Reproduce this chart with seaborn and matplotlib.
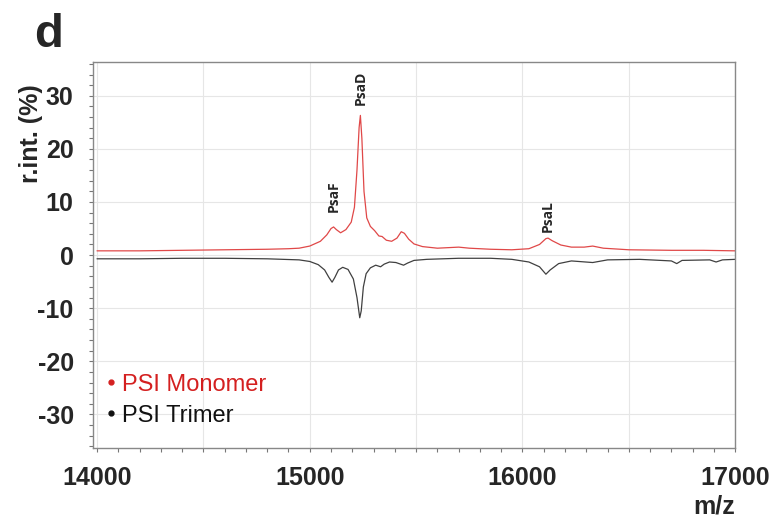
import matplotlib
matplotlib.use("Agg")
import matplotlib.pyplot as plt
import seaborn as sns
import pandas as pd
from matplotlib.ticker import MultipleLocator, FuncFormatter
from matplotlib.lines import Line2D

# PSI monomer spectrum (red, plotted upward)
mono_mz = [14000, 14200, 14400, 14600, 14800, 14900, 14950, 15000, 15050, 15080,
           15100, 15112, 15125, 15145, 15170, 15195, 15210, 15222, 15232, 15238,
           15245, 15255, 15268, 15285, 15305, 15325, 15340, 15360, 15385, 15410,
           15430, 15445, 15465, 15490, 15530, 15600, 15700, 15750, 15850, 15950,
           16030, 16080, 16110, 16120, 16140, 16180, 16230, 16290, 16330, 16380,
           16500, 16700, 16850, 17000]
mono_int = [0.8, 0.8, 0.9, 1.0, 1.1, 1.2, 1.3, 1.7, 2.6, 3.8,
            5.0, 5.3, 4.8, 4.2, 4.8, 6.2, 9.0, 16.0, 24.0, 26.3,
            22.0, 12.0, 7.0, 5.4, 4.6, 3.6, 3.5, 2.8, 2.6, 3.2,
            4.4, 4.1, 3.0, 2.1, 1.6, 1.3, 1.5, 1.3, 1.1, 1.0,
            1.2, 2.0, 3.1, 3.2, 2.7, 1.9, 1.5, 1.5, 1.7, 1.3,
            1.0, 0.9, 0.9, 0.8]

# PSI trimer spectrum (black, mirrored downward)
tri_mz = [14000, 14200, 14400, 14600, 14800, 14950, 15000, 15040, 15070, 15090,
          15105, 15118, 15135, 15155, 15180, 15205, 15222, 15235, 15242, 15252,
          15265, 15285, 15310, 15333, 15350, 15375, 15405, 15441, 15460, 15490,
          15550, 15700, 15850, 15950, 16030, 16080, 16110, 16130, 16170, 16230,
          16330, 16400, 16550, 16700, 16725, 16750, 16880, 16910, 16940, 17000]
tri_int = [-0.7, -0.7, -0.6, -0.6, -0.7, -0.9, -1.2, -1.8, -2.8, -4.2,
           -5.1, -4.2, -2.8, -2.3, -2.7, -4.5, -8.0, -11.8, -10.5, -6.0,
           -3.5, -2.4, -1.9, -2.2, -1.7, -1.3, -1.4, -1.9, -1.5, -1.0,
           -0.8, -0.6, -0.6, -0.8, -1.3, -2.2, -3.6, -2.8, -1.6, -1.1,
           -1.4, -0.9, -0.8, -1.1, -1.6, -1.0, -0.9, -1.3, -0.9, -0.8]

peak_names = ["PsaF", "PsaD", "PsaL"]
peak_mz = [15112, 15238, 16117]
peak_top = [5.3, 26.3, 3.2]
label_gap = [2.9, 1.9, 1.1]

series_names = ["PSI Monomer", "PSI Trimer"]
series_colors = ["#e04848", "#404040"]
label_colors = ["#d42020", "#111111"]

sns.set_style("white")
plt.rcParams["font.family"] = ["Liberation Sans", "DejaVu Sans"]
plt.rcParams["axes.unicode_minus"] = False

fig = plt.figure(figsize=(7.83, 5.19), dpi=100)
ax = fig.add_axes([0.119, 0.137, 0.820, 0.744])

ax.grid(True, color="#e6e6e6", linewidth=0.8)
ax.set_axisbelow(True)

sns.lineplot(x=mono_mz, y=mono_int, ax=ax, color=series_colors[0], linewidth=0.9)
sns.lineplot(x=tri_mz, y=tri_int, ax=ax, color=series_colors[1], linewidth=0.9)

ax.set_xlim(13982, 17000)
ax.set_ylim(-36.3, 36.4)

ax.xaxis.set_major_locator(MultipleLocator(500))
ax.xaxis.set_minor_locator(MultipleLocator(100))
ax.xaxis.set_major_formatter(FuncFormatter(lambda v, p: f"{int(v)}" if v % 1000 == 0 else ""))
ax.yaxis.set_major_locator(MultipleLocator(10))
ax.yaxis.set_minor_locator(MultipleLocator(2))

ax.tick_params(axis="both", which="both", direction="out", length=3, width=0.8,
               color="#777777", labelsize=18)
ax.tick_params(axis="x", which="both", bottom=True, pad=10)
ax.tick_params(axis="y", which="both", left=True, pad=11)
for lab in ax.get_xticklabels() + ax.get_yticklabels():
    lab.set_fontweight("bold")

for s in ax.spines.values():
    s.set_color("#888888")
    s.set_linewidth(1.0)

for name, mz, top, gap in zip(peak_names, peak_mz, peak_top, label_gap):
    ax.text(mz, top + gap, name, rotation=90, ha="center", va="bottom",
            fontsize=10, fontweight="bold", family=["Open Sans", "DejaVu Sans"])

ax.set_xlabel("")
ax.set_ylabel("r.int. (%)", fontsize=18, fontweight="bold")
ax.yaxis.set_label_coords(-0.078, 0.815)

fig.text(0.939, 0.0, "m/z", fontsize=18, fontweight="bold", ha="right", va="bottom")
fig.text(0.043, 0.89, "d", fontsize=34, fontweight="bold", ha="left", va="bottom")

handles = [Line2D([0], [0], marker="o", markersize=3.5, linestyle="", color=c)
           for c in label_colors]
leg = ax.legend(handles, series_names, loc="lower left", bbox_to_anchor=(-0.012, 0.0),
                frameon=False, fontsize=17, handlelength=0.4, handletextpad=0.25,
                labelspacing=0.38, labelcolor=label_colors)

fig.savefig("out.png", dpi=100)
